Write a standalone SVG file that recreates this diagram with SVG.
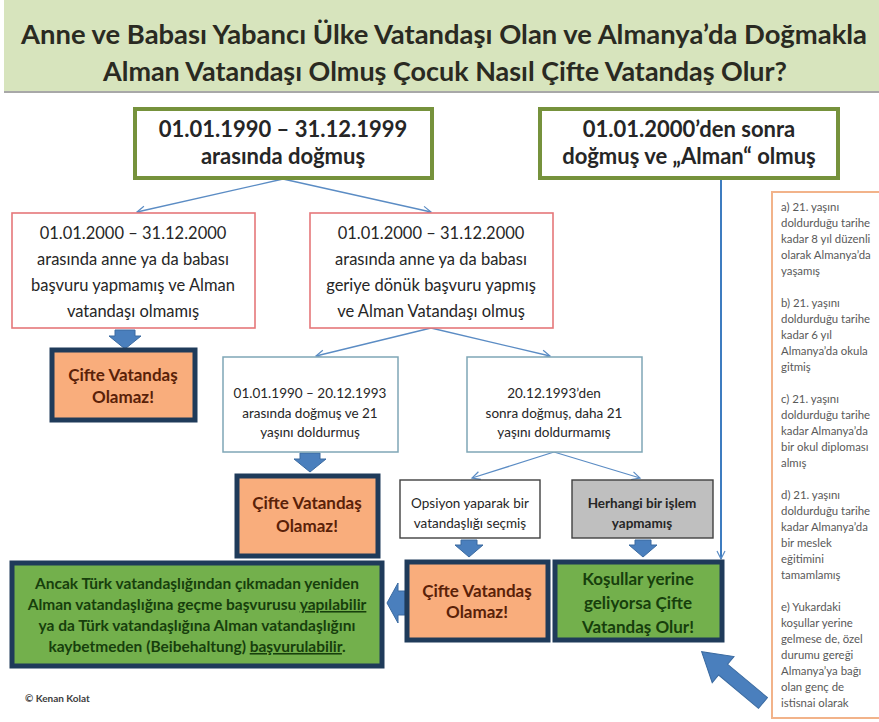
<svg xmlns="http://www.w3.org/2000/svg" width="879" height="722" viewBox="0 0 879 722">
<style>
text{font-family:Lato,"Liberation Sans",sans-serif;}
.title{font-size:26px;font-weight:bold;fill:#2a2a22;text-anchor:middle;}
.gbox{fill:#fff;stroke:#76923c;stroke-width:4;}
.gtxt{font-size:22px;font-weight:bold;fill:#262626;text-anchor:middle;}
.pbox{fill:#fff;stroke:#e5777a;stroke-width:1.6;}
.ptxt{font-size:16.5px;fill:#262626;text-anchor:middle;}
.wbox{fill:#fff;stroke:#7fa6b6;stroke-width:1.5;}
.wtxt{font-size:13.5px;fill:#262626;text-anchor:middle;}
.obox{fill:#f9ad7c;stroke:#1f3b5a;stroke-width:5;}
.otxt{font-size:17px;font-weight:bold;fill:#5a2108;text-anchor:middle;}
.rbox{fill:#73b04c;stroke:#1f3b5a;stroke-width:5;}
.rtxt{font-weight:bold;fill:#173f0c;text-anchor:middle;}
.dbox{fill:#fff;stroke:#404040;stroke-width:1.4;}
.graybox{fill:#bfbfbf;stroke:#404040;stroke-width:1.4;}
.stxt{font-size:13.5px;fill:#262626;text-anchor:middle;}
.conn{stroke:#5b8cc4;stroke-width:1.3;fill:none;marker-end:url(#open);}
.barrow{fill:#4a7fbd;stroke:#3a6aa0;stroke-width:1;}
.side{font-size:11.4px;fill:#595959;}
</style>
<defs>
<marker id="open" markerWidth="12" markerHeight="12" refX="9" refY="5" orient="auto" markerUnits="userSpaceOnUse">
<path d="M1,1 L9,5 L1,9" fill="none" stroke="#5b8cc4" stroke-width="1.2"/>
</marker>
<path id="down" d="M-10,0 H10 V6 H16 L0,19 L-16,6 H-10 Z"/>
<path id="downS" d="M-8,0 H8 V5 H14 L0,17 L-14,5 H-8 Z"/>
</defs>
<rect x="0" y="0" width="879" height="722" fill="#fff"/>
<g id="title">
<rect x="4" y="0" width="875" height="91" fill="#d7e4bd"/>
<line x1="4" y1="92" x2="879" y2="92" stroke="#a8a8a8" stroke-width="2"/>
<text class="title" x="444" y="44" textLength="846" lengthAdjust="spacingAndGlyphs">Anne ve Babası Yabancı Ülke Vatandaşı Olan ve Almanya’da Doğmakla</text>
<text class="title" x="445" y="81" textLength="684" lengthAdjust="spacingAndGlyphs">Alman Vatandaşı Olmuş Çocuk Nasıl Çifte Vatandaş Olur?</text>
</g>
<g id="connectors">
<line class="conn" x1="283" y1="179" x2="137" y2="212"/>
<line class="conn" x1="283" y1="179" x2="431" y2="212"/>
<line class="conn" x1="431" y1="328" x2="316" y2="356"/>
<line class="conn" x1="431" y1="328" x2="550" y2="356"/>
<line class="conn" x1="554" y1="452" x2="472" y2="478"/>
<line class="conn" x1="554" y1="452" x2="640" y2="478"/>
<line x1="721" y1="179" x2="721" y2="559" stroke="#3d7cc0" stroke-width="2" fill="none" marker-end="url(#open)"/>
<use href="#down" class="barrow" x="125" y="330"/>
<use href="#down" class="barrow" x="310" y="453"/>
<use href="#downS" class="barrow" x="469" y="540"/>
<use href="#downS" class="barrow" x="643" y="540"/>
<path class="barrow" d="M405,591 V615 H398 V623 L387,603 L398,583 V591 Z"/>
<path class="barrow" transform="translate(763,703) rotate(219.9)" d="M0,-7 H52 V-17 L80,0 L52,17 V7 H0 Z"/>
</g>
<g id="n1">
<rect class="gbox" x="135" y="109" width="297" height="69"/>
<text class="gtxt" x="283" y="137">01.01.1990 – 31.12.1999</text>
<text class="gtxt" x="283" y="164">arasında doğmuş</text>
</g>
<g id="n2">
<rect class="gbox" x="540" y="109" width="298" height="69"/>
<text class="gtxt" x="689" y="137">01.01.2000’den sonra</text>
<text class="gtxt" x="689" y="164">doğmuş ve „Alman“ olmuş</text>
</g>
<g id="n3">
<rect class="pbox" x="12" y="213" width="243" height="115"/>
<text class="ptxt" x="133" y="239">01.01.2000 – 31.12.2000</text>
<text class="ptxt" x="133" y="265">arasında anne ya da babası</text>
<text class="ptxt" x="133" y="291">başvuru yapmamış ve Alman</text>
<text class="ptxt" x="133" y="317">vatandaşı olmamış</text>
</g>
<g id="n4">
<rect class="pbox" x="310" y="213" width="243" height="115"/>
<text class="ptxt" x="431" y="239">01.01.2000 – 31.12.2000</text>
<text class="ptxt" x="431" y="265">arasında anne ya da babası</text>
<text class="ptxt" x="431" y="291">geriye dönük başvuru yapmış</text>
<text class="ptxt" x="431" y="317">ve Alman Vatandaşı olmuş</text>
</g>
<g id="n5">
<rect class="obox" x="52" y="350" width="143" height="70"/>
<text class="otxt" x="123" y="381">Çifte Vatandaş</text>
<text class="otxt" x="123" y="403">Olamaz!</text>
</g>
<g id="n6">
<rect class="wbox" x="223" y="357" width="175" height="95"/>
<text class="wtxt" x="310" y="398">01.01.1990 – 20.12.1993</text>
<text class="wtxt" x="310" y="418">arasında doğmuş ve 21</text>
<text class="wtxt" x="310" y="437">yaşını doldurmuş</text>
</g>
<g id="n7">
<rect class="wbox" x="467" y="357" width="175" height="95"/>
<text class="wtxt" x="554" y="398">20.12.1993’den</text>
<text class="wtxt" x="554" y="418">sonra doğmuş, daha 21</text>
<text class="wtxt" x="554" y="437">yaşını doldurmamış</text>
</g>
<g id="n8">
<rect class="obox" x="237" y="476" width="141" height="80"/>
<text class="otxt" x="307" y="509">Çifte Vatandaş</text>
<text class="otxt" x="307" y="532">Olamaz!</text>
</g>
<g id="n9">
<rect class="dbox" x="400" y="480" width="140" height="58"/>
<text class="stxt" x="470" y="508">Opsiyon yaparak bir</text>
<text class="stxt" x="470" y="528">vatandaşlığı seçmiş</text>
</g>
<g id="n10">
<rect class="graybox" x="572" y="480" width="141" height="58"/>
<text class="stxt" x="642" y="508" font-weight="bold">Herhangi bir işlem</text>
<text class="stxt" x="642" y="528" font-weight="bold">yapmamış</text>
</g>
<g id="n11">
<rect class="obox" x="407" y="562" width="141" height="78"/>
<text class="otxt" x="477" y="597">Çifte Vatandaş</text>
<text class="otxt" x="477" y="618">Olamaz!</text>
</g>
<g id="n12">
<rect class="rbox" x="555" y="562" width="167" height="78"/>
<text class="rtxt" x="638" y="585" font-size="17">Koşullar yerine</text>
<text class="rtxt" x="638" y="609" font-size="17">geliyorsa Çifte</text>
<text class="rtxt" x="638" y="633" font-size="17">Vatandaş Olur!</text>
</g>
<g id="n13">
<rect class="rbox" x="12" y="563" width="370" height="103"/>
<text class="rtxt" x="197" y="589" font-size="15.5">Ancak Türk vatandaşlığından çıkmadan yeniden</text>
<text class="rtxt" x="197" y="610" font-size="15.5">Alman vatandaşlığına geçme başvurusu <tspan text-decoration="underline">yapılabilir</tspan></text>
<text class="rtxt" x="197" y="631" font-size="15.5">ya da Türk vatandaşlığına Alman vatandaşlığını</text>
<text class="rtxt" x="197" y="652" font-size="15.5">kaybetmeden (Beibehaltung) <tspan text-decoration="underline">başvurulabilir</tspan>.</text>
</g>
<g id="n14">
<rect x="772" y="192" width="120" height="526" fill="#fff" stroke="#f2b38a" stroke-width="2"/>
<text class="side" x="781" y="211">
<tspan x="781" dy="0">a) 21. yaşını</tspan>
<tspan x="781" dy="16">doldurduğu tarihe</tspan>
<tspan x="781" dy="16">kadar 8 yıl düzenli</tspan>
<tspan x="781" dy="16">olarak Almanya’da</tspan>
<tspan x="781" dy="16">yaşamış</tspan>
<tspan x="781" dy="32">b) 21. yaşını</tspan>
<tspan x="781" dy="16">doldurduğu tarihe</tspan>
<tspan x="781" dy="16">kadar 6 yıl</tspan>
<tspan x="781" dy="16">Almanya’da okula</tspan>
<tspan x="781" dy="16">gitmiş</tspan>
<tspan x="781" dy="32">c) 21. yaşını</tspan>
<tspan x="781" dy="16">doldurduğu tarihe</tspan>
<tspan x="781" dy="16">kadar Almanya’da</tspan>
<tspan x="781" dy="16">bir okul diploması</tspan>
<tspan x="781" dy="16">almış</tspan>
<tspan x="781" dy="32">d) 21. yaşını</tspan>
<tspan x="781" dy="16">doldurduğu tarihe</tspan>
<tspan x="781" dy="16">kadar Almanya’da</tspan>
<tspan x="781" dy="16">bir meslek</tspan>
<tspan x="781" dy="16">eğitimini</tspan>
<tspan x="781" dy="16">tamamlamış</tspan>
<tspan x="781" dy="32">e) Yukardaki</tspan>
<tspan x="781" dy="16">koşullar yerine</tspan>
<tspan x="781" dy="16">gelmese de, özel</tspan>
<tspan x="781" dy="16">durumu gereği</tspan>
<tspan x="781" dy="16">Almanya’ya bağı</tspan>
<tspan x="781" dy="16">olan genç de</tspan>
<tspan x="781" dy="16">istisnai olarak</tspan>
</text>
</g>
<g id="credit">
<text x="25" y="702" font-size="10" font-weight="bold" fill="#404040">© Kenan Kolat</text>
</g>
</svg>
